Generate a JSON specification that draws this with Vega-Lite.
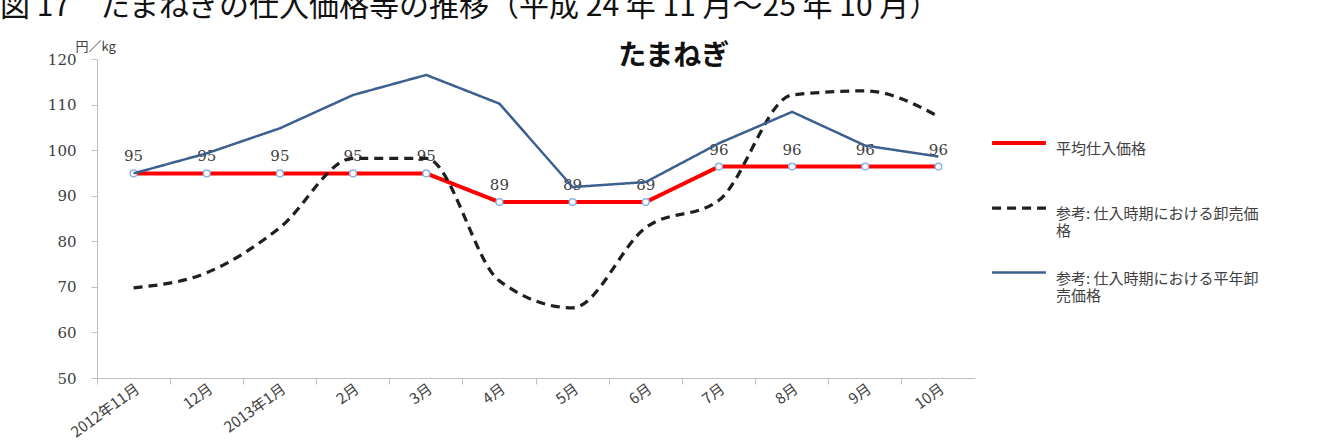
{
  "$schema": "https://vega.github.io/schema/vega-lite/v6.json",
  "width": 878,
  "height": 319,
  "autosize": {"type": "none"},
  "padding": {"left": 97, "top": 59, "right": 369, "bottom": 70},
  "background": "white",
  "title": {
    "text": "図 17　たまねぎの仕入価格等の推移（平成 24 年 11 月～25 年 10 月）",
    "anchor": "start",
    "frame": "group",
    "dx": -97,
    "dy": -18,
    "offset": 0,
    "fontSize": 30,
    "font": "Noto Sans CJK JP",
    "fontWeight": "normal",
    "color": "#111111"
  },
  "config": {
    "view": {"stroke": null},
    "legend": {
      "orient": "none",
      "legendX": 893,
      "legendY": 55,
      "symbolType": "stroke",
      "symbolSize": 2900,
      "labelFont": "Noto Sans CJK JP",
      "labelFontSize": 15,
      "labelColor": "#404040",
      "labelOffset": 8,
      "labelLimit": 400,
      "rowPadding": 5
    }
  },
  "data": {
    "values": [
      {"month": "2012年11月", "series": "平均仕入価格", "value": 94.9},
      {"month": "12月", "series": "平均仕入価格", "value": 94.9},
      {"month": "2013年1月", "series": "平均仕入価格", "value": 94.9},
      {"month": "2月", "series": "平均仕入価格", "value": 94.9},
      {"month": "3月", "series": "平均仕入価格", "value": 94.9},
      {"month": "4月", "series": "平均仕入価格", "value": 88.6},
      {"month": "5月", "series": "平均仕入価格", "value": 88.6},
      {"month": "6月", "series": "平均仕入価格", "value": 88.6},
      {"month": "7月", "series": "平均仕入価格", "value": 96.4},
      {"month": "8月", "series": "平均仕入価格", "value": 96.4},
      {"month": "9月", "series": "平均仕入価格", "value": 96.4},
      {"month": "10月", "series": "平均仕入価格", "value": 96.4},
      {"month": "2012年11月", "series": "参考: 仕入時期における卸売価格", "value": 69.8},
      {"month": "12月", "series": "参考: 仕入時期における卸売価格", "value": 73.1},
      {"month": "2013年1月", "series": "参考: 仕入時期における卸売価格", "value": 83.0},
      {"month": "2月", "series": "参考: 仕入時期における卸売価格", "value": 98.2},
      {"month": "3月", "series": "参考: 仕入時期における卸売価格", "value": 98.2},
      {"month": "4月", "series": "参考: 仕入時期における卸売価格", "value": 71.3},
      {"month": "5月", "series": "参考: 仕入時期における卸売価格", "value": 65.4},
      {"month": "6月", "series": "参考: 仕入時期における卸売価格", "value": 83.0},
      {"month": "7月", "series": "参考: 仕入時期における卸売価格", "value": 89.0},
      {"month": "8月", "series": "参考: 仕入時期における卸売価格", "value": 112.1},
      {"month": "9月", "series": "参考: 仕入時期における卸売価格", "value": 113.0},
      {"month": "10月", "series": "参考: 仕入時期における卸売価格", "value": 107.4},
      {"month": "2012年11月", "series": "参考: 仕入時期における平年卸売価格", "value": 94.9},
      {"month": "12月", "series": "参考: 仕入時期における平年卸売価格", "value": 99.3},
      {"month": "2013年1月", "series": "参考: 仕入時期における平年卸売価格", "value": 104.8},
      {"month": "2月", "series": "参考: 仕入時期における平年卸売価格", "value": 112.1},
      {"month": "3月", "series": "参考: 仕入時期における平年卸売価格", "value": 116.5},
      {"month": "4月", "series": "参考: 仕入時期における平年卸売価格", "value": 110.2},
      {"month": "5月", "series": "参考: 仕入時期における平年卸売価格", "value": 91.9},
      {"month": "6月", "series": "参考: 仕入時期における平年卸売価格", "value": 93.0},
      {"month": "7月", "series": "参考: 仕入時期における平年卸売価格", "value": 101.5},
      {"month": "8月", "series": "参考: 仕入時期における平年卸売価格", "value": 108.4},
      {"month": "9月", "series": "参考: 仕入時期における平年卸売価格", "value": 101.0},
      {"month": "10月", "series": "参考: 仕入時期における平年卸売価格", "value": 98.6}
    ]
  },
  "encoding": {
    "x": {
      "field": "month",
      "type": "ordinal",
      "sort": ["2012年11月", "12月", "2013年1月", "2月", "3月", "4月", "5月", "6月", "7月", "8月", "9月", "10月"],
      "scale": {"type": "band", "paddingInner": 0, "paddingOuter": 0},
      "axis": null
    },
    "y": {
      "field": "value",
      "type": "quantitative",
      "scale": {"domain": [50, 120], "nice": false, "zero": false},
      "axis": {
        "values": [50, 60, 70, 80, 90, 100, 110, 120],
        "grid": false,
        "domainColor": "#bfbfbf",
        "tickColor": "#bfbfbf",
        "tickSize": 6,
        "labelPadding": 15,
        "labelFont": "DejaVu Serif",
        "labelFontSize": 15,
        "labelColor": "#404040",
        "title": "円／kg",
        "titleAngle": 0,
        "titleX": -22,
        "titleY": -6,
        "titleAlign": "left",
        "titleBaseline": "bottom",
        "titleFont": "Noto Sans CJK JP",
        "titleFontSize": 13,
        "titleFontWeight": "normal",
        "titleColor": "#404040"
      }
    }
  },
  "resolve": {"axis": {"x": "independent"}},
  "layer": [
    {
      "transform": [{"filter": "datum.series == '平均仕入価格'"}],
      "mark": {"type": "line"},
      "encoding": {
        "x": {
          "field": "month",
          "type": "ordinal",
          "sort": ["2012年11月", "12月", "2013年1月", "2月", "3月", "4月", "5月", "6月", "7月", "8月", "9月", "10月"],
          "scale": {"type": "band", "paddingInner": 0, "paddingOuter": 0},
          "axis": {
            "orient": "bottom",
            "title": null,
            "ticks": false,
            "domainColor": "#bfbfbf",
            "labelAngle": -36,
            "labelFont": "Noto Sans CJK JP",
            "labelFontSize": 15,
            "labelColor": "#404040",
            "labelPadding": 3
          }
        },
        "color": {
          "field": "series", "type": "nominal",
          "scale": {"domain": ["平均仕入価格", "参考: 仕入時期における卸売価格", "参考: 仕入時期における平年卸売価格"], "range": ["#ff0000", "#1f1f1f", "#3b5f8e"]},
          "legend": {"title": null, "labelExpr": "datum.label == '参考: 仕入時期における卸売価格' ? ['参考: 仕入時期における卸売価', '格'] : datum.label == '参考: 仕入時期における平年卸売価格' ? ['参考: 仕入時期における平年卸', '売価格'] : [datum.label, ' ']", "encode": {"labels": {"update": {"dy": {"value": 6}}}}}
        },
        "strokeDash": {
          "field": "series", "type": "nominal",
          "scale": {"domain": ["平均仕入価格", "参考: 仕入時期における卸売価格", "参考: 仕入時期における平年卸売価格"], "range": [[1, 0], [9, 6], [1, 0]]},
          "legend": {"title": null, "labelExpr": "datum.label == '参考: 仕入時期における卸売価格' ? ['参考: 仕入時期における卸売価', '格'] : datum.label == '参考: 仕入時期における平年卸売価格' ? ['参考: 仕入時期における平年卸', '売価格'] : [datum.label, ' ']", "encode": {"labels": {"update": {"dy": {"value": 6}}}}}
        },
        "strokeWidth": {
          "field": "series", "type": "nominal",
          "scale": {"domain": ["平均仕入価格", "参考: 仕入時期における卸売価格", "参考: 仕入時期における平年卸売価格"], "range": [4, 2.5, 2.2]},
          "legend": {"title": null, "labelExpr": "datum.label == '参考: 仕入時期における卸売価格' ? ['参考: 仕入時期における卸売価', '格'] : datum.label == '参考: 仕入時期における平年卸売価格' ? ['参考: 仕入時期における平年卸', '売価格'] : [datum.label, ' ']", "encode": {"labels": {"update": {"dy": {"value": 6}}}}}
        }
      }
    },
    {
      "transform": [{"filter": "datum.series == '平均仕入価格'"}],
      "mark": {"type": "circle", "size": 45, "fill": "white", "stroke": "#8eb4e3", "strokeWidth": 1.5, "opacity": 1}
    },
    {
      "transform": [{"filter": "datum.series == '平均仕入価格'"}],
      "mark": {"type": "text", "baseline": "bottom", "dy": -9, "font": "DejaVu Serif", "fontSize": 15, "color": "#404040"},
      "encoding": {"text": {"field": "value", "type": "quantitative", "format": ".0f"}}
    },
    {
      "transform": [{"filter": "datum.series == '参考: 仕入時期における卸売価格'"}],
      "mark": {"type": "line", "interpolate": "monotone"},
      "encoding": {
        "color": {
          "field": "series", "type": "nominal",
          "scale": {"domain": ["平均仕入価格", "参考: 仕入時期における卸売価格", "参考: 仕入時期における平年卸売価格"], "range": ["#ff0000", "#1f1f1f", "#3b5f8e"]},
          "legend": {"title": null, "labelExpr": "datum.label == '参考: 仕入時期における卸売価格' ? ['参考: 仕入時期における卸売価', '格'] : datum.label == '参考: 仕入時期における平年卸売価格' ? ['参考: 仕入時期における平年卸', '売価格'] : [datum.label, ' ']", "encode": {"labels": {"update": {"dy": {"value": 6}}}}}
        },
        "strokeDash": {
          "field": "series", "type": "nominal",
          "scale": {"domain": ["平均仕入価格", "参考: 仕入時期における卸売価格", "参考: 仕入時期における平年卸売価格"], "range": [[1, 0], [9, 6], [1, 0]]},
          "legend": {"title": null, "labelExpr": "datum.label == '参考: 仕入時期における卸売価格' ? ['参考: 仕入時期における卸売価', '格'] : datum.label == '参考: 仕入時期における平年卸売価格' ? ['参考: 仕入時期における平年卸', '売価格'] : [datum.label, ' ']", "encode": {"labels": {"update": {"dy": {"value": 6}}}}}
        },
        "strokeWidth": {
          "field": "series", "type": "nominal",
          "scale": {"domain": ["平均仕入価格", "参考: 仕入時期における卸売価格", "参考: 仕入時期における平年卸売価格"], "range": [4, 2.5, 2.2]},
          "legend": {"title": null, "labelExpr": "datum.label == '参考: 仕入時期における卸売価格' ? ['参考: 仕入時期における卸売価', '格'] : datum.label == '参考: 仕入時期における平年卸売価格' ? ['参考: 仕入時期における平年卸', '売価格'] : [datum.label, ' ']", "encode": {"labels": {"update": {"dy": {"value": 6}}}}}
        }
      }
    },
    {
      "transform": [{"filter": "datum.series == '参考: 仕入時期における平年卸売価格'"}],
      "mark": {"type": "line"},
      "encoding": {
        "x": {
          "field": "month",
          "type": "ordinal",
          "sort": ["2012年11月", "12月", "2013年1月", "2月", "3月", "4月", "5月", "6月", "7月", "8月", "9月", "10月"],
          "scale": {"type": "band", "paddingInner": 0, "paddingOuter": 0},
          "axis": {
            "orient": "bottom",
            "title": null,
            "labels": false,
            "domain": false,
            "ticks": true,
            "tickColor": "#bfbfbf",
            "tickSize": 6,
            "bandPosition": 0
          }
        },
        "color": {
          "field": "series", "type": "nominal",
          "scale": {"domain": ["平均仕入価格", "参考: 仕入時期における卸売価格", "参考: 仕入時期における平年卸売価格"], "range": ["#ff0000", "#1f1f1f", "#3b5f8e"]},
          "legend": {"title": null, "labelExpr": "datum.label == '参考: 仕入時期における卸売価格' ? ['参考: 仕入時期における卸売価', '格'] : datum.label == '参考: 仕入時期における平年卸売価格' ? ['参考: 仕入時期における平年卸', '売価格'] : [datum.label, ' ']", "encode": {"labels": {"update": {"dy": {"value": 6}}}}}
        },
        "strokeDash": {
          "field": "series", "type": "nominal",
          "scale": {"domain": ["平均仕入価格", "参考: 仕入時期における卸売価格", "参考: 仕入時期における平年卸売価格"], "range": [[1, 0], [9, 6], [1, 0]]},
          "legend": {"title": null, "labelExpr": "datum.label == '参考: 仕入時期における卸売価格' ? ['参考: 仕入時期における卸売価', '格'] : datum.label == '参考: 仕入時期における平年卸売価格' ? ['参考: 仕入時期における平年卸', '売価格'] : [datum.label, ' ']", "encode": {"labels": {"update": {"dy": {"value": 6}}}}}
        },
        "strokeWidth": {
          "field": "series", "type": "nominal",
          "scale": {"domain": ["平均仕入価格", "参考: 仕入時期における卸売価格", "参考: 仕入時期における平年卸売価格"], "range": [4, 2.5, 2.2]},
          "legend": {"title": null, "labelExpr": "datum.label == '参考: 仕入時期における卸売価格' ? ['参考: 仕入時期における卸売価', '格'] : datum.label == '参考: 仕入時期における平年卸売価格' ? ['参考: 仕入時期における平年卸', '売価格'] : [datum.label, ' ']", "encode": {"labels": {"update": {"dy": {"value": 6}}}}}
        }
      }
    },
    {
      "transform": [{"filter": "datum.series == '平均仕入価格' && datum.month == '6月'"}],
      "mark": {"type": "text", "text": "たまねぎ", "font": "Noto Sans CJK JP", "fontSize": 28, "fontWeight": "bold", "color": "#111111", "baseline": "middle", "dx": 28, "dy": -2},
      "encoding": {
        "x": {"datum": "6月", "type": "ordinal", "axis": null},
        "y": {"datum": 120, "type": "quantitative"}
      }
    }
  ]
}
